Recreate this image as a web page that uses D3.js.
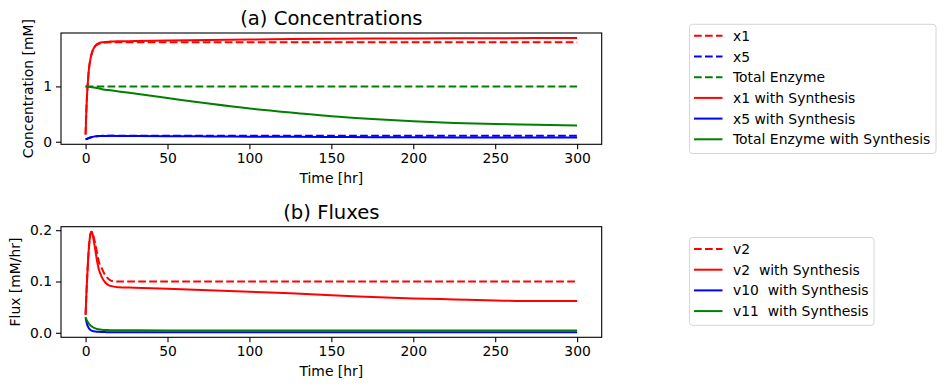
<!DOCTYPE html>
<html>
<head>
<meta charset="utf-8">
<script src="https://cdn.jsdelivr.net/npm/d3@7"></script>
<style>
  body { margin: 0; background: #fff; }
  text { font-family: "DejaVu Sans", sans-serif; fill: #000; }
</style>
</head>
<body>
<div id="chart"></div>
<script>
// time points (hr) for the concentration panel
var tConc = [0, 0.5, 1, 1.5, 2, 3, 4, 5, 6, 7, 8, 10, 12, 15, 20, 30, 50, 75, 100, 125, 150, 175, 200, 225, 250, 275, 300]
var x1 = [0.13, 0.58, 0.9, 1.12, 1.3, 1.5, 1.62, 1.69, 1.73, 1.755, 1.77, 1.785, 1.792, 1.797, 1.8, 1.8, 1.8, 1.8, 1.8, 1.8, 1.8, 1.8, 1.8, 1.8, 1.8, 1.8, 1.8]
var x5 = [0.045, 0.05, 0.055, 0.061, 0.067, 0.077, 0.085, 0.092, 0.097, 0.1, 0.103, 0.106, 0.108, 0.109, 0.11, 0.11, 0.11, 0.11, 0.11, 0.11, 0.11, 0.11, 0.11, 0.11, 0.11, 0.11, 0.11]
var enzyme = [1, 1, 1, 1, 1, 1, 1, 1, 1, 1, 1, 1, 1, 1, 1, 1, 1, 1, 1, 1, 1, 1, 1, 1, 1, 1, 1]
var x1Syn = [0.13, 0.58, 0.9, 1.12, 1.3, 1.5, 1.62, 1.69, 1.735, 1.765, 1.78, 1.797, 1.805, 1.81, 1.815, 1.82, 1.83, 1.84, 1.848, 1.855, 1.86, 1.864, 1.867, 1.87, 1.872, 1.873, 1.874]
var x5Syn = [0.045, 0.05, 0.055, 0.061, 0.067, 0.077, 0.085, 0.092, 0.097, 0.1, 0.102, 0.104, 0.105, 0.106, 0.105, 0.103, 0.1, 0.096, 0.092, 0.088, 0.085, 0.082, 0.08, 0.078, 0.077, 0.076, 0.075]
var enzymeSyn = [1.0, 1.0, 0.998, 0.995, 0.993, 0.99, 0.985, 0.98, 0.975, 0.97, 0.965, 0.95, 0.94, 0.93, 0.91, 0.87, 0.79, 0.69, 0.6, 0.53, 0.46, 0.41, 0.37, 0.34, 0.32, 0.305, 0.295]

// time points (hr) for the flux panel
var tFlux = [0, 0.5, 1, 1.5, 2, 2.5, 3, 3.5, 4, 5, 6, 7, 8, 10, 12, 14, 16, 20, 30, 50, 75, 100, 125, 150, 175, 200, 225, 250, 275, 300]
var v2 = [0.035, 0.075, 0.11, 0.14, 0.165, 0.182, 0.193, 0.197, 0.196, 0.186, 0.172, 0.156, 0.14, 0.125, 0.112, 0.105, 0.101, 0.1, 0.1, 0.1, 0.1, 0.1, 0.1, 0.1, 0.1, 0.1, 0.1, 0.1, 0.1, 0.1]
var v2Syn = [0.035, 0.075, 0.11, 0.14, 0.165, 0.182, 0.193, 0.197, 0.195, 0.18, 0.16, 0.14, 0.125, 0.108, 0.098, 0.093, 0.091, 0.089, 0.088, 0.086, 0.083, 0.08, 0.077, 0.073, 0.07, 0.067, 0.065, 0.063, 0.062, 0.062]
var v10Syn = [0.03, 0.022, 0.016, 0.012, 0.009, 0.007, 0.0055, 0.0045, 0.0038, 0.003, 0.0025, 0.0021, 0.0018, 0.0015, 0.0013, 0.0012, 0.0011, 0.001, 0.001, 0.001, 0.001, 0.001, 0.001, 0.001, 0.001, 0.001, 0.001, 0.001, 0.001, 0.001]
var v11Syn = [0.03, 0.026, 0.023, 0.02, 0.018, 0.016, 0.014, 0.013, 0.012, 0.01, 0.0085, 0.0075, 0.0068, 0.006, 0.0055, 0.0052, 0.005, 0.005, 0.0048, 0.0047, 0.0046, 0.0045, 0.0045, 0.0045, 0.0045, 0.0045, 0.0045, 0.0045, 0.0045, 0.0045]

var xTicks = [0, 50, 100, 150, 200, 250, 300]
var concTicks = [0, 1]
var fluxTicks = [0.0, 0.1, 0.2]

var concSeries = [
    {name: "x1", t: tConc, v: x1, color: "#ff0000", dash: true},
    {name: "x5", t: tConc, v: x5, color: "#0000ff", dash: true},
    {name: "Total Enzyme", t: tConc, v: enzyme, color: "#008000", dash: true},
    {name: "x1 with Synthesis", t: tConc, v: x1Syn, color: "#ff0000", dash: false},
    {name: "x5 with Synthesis", t: tConc, v: x5Syn, color: "#0000ff", dash: false},
    {name: "Total Enzyme with Synthesis", t: tConc, v: enzymeSyn, color: "#008000", dash: false}
]
var fluxSeries = [
    {name: "v2", t: tFlux, v: v2, color: "#ff0000", dash: true},
    {name: "v2  with Synthesis", t: tFlux, v: v2Syn, color: "#ff0000", dash: false},
    {name: "v10  with Synthesis", t: tFlux, v: v10Syn, color: "#0000ff", dash: false},
    {name: "v11  with Synthesis", t: tFlux, v: v11Syn, color: "#008000", dash: false}
]

var W = 945, H = 390
var svg = d3.select("#chart").append("svg")
    .attr("width", W)
    .attr("height", H)

var dashArr = "7.7,3.3"

// matplotlib style 5% margins
function padded(lo, hi) {
    var r = hi - lo
    return [lo - 0.05 * r, hi + 0.05 * r]
}

function panel(opts) {
    var left = 61, right = 601.7
    var top = opts.top, bottom = opts.bottom

    var allT = [], allV = []
    opts.series.forEach(function (s) { allT = allT.concat(s.t); allV = allV.concat(s.v) })

    var x = d3.scaleLinear().domain(padded(d3.min(allT), d3.max(allT))).range([left, right])
    var y = d3.scaleLinear().domain(padded(d3.min(allV), d3.max(allV))).range([bottom, top])

    var g = svg.append("g")

    var clipId = "clip" + opts.id
    g.append("clipPath").attr("id", clipId)
        .append("rect")
        .attr("x", left).attr("y", top)
        .attr("width", right - left).attr("height", bottom - top)

    var line = d3.line()
        .x(function (d) { return x(d[0]) })
        .y(function (d) { return y(d[1]) })
        .curve(d3.curveMonotoneX)

    g.append("g").attr("clip-path", "url(#" + clipId + ")")
        .selectAll("path")
        .data(opts.series)
        .enter()
        .append("path")
            .attr("d", function (s) { return line(s.t.map(function (t, i) { return [t, s.v[i]] })) })
            .attr("fill", "none")
            .attr("stroke", function (s) { return s.color })
            .attr("stroke-width", 2)
            .attr("stroke-dasharray", function (s) { return s.dash ? dashArr : null })

    // axes
    var xAxis = d3.axisBottom(x).tickValues(xTicks).tickSize(5).tickPadding(4).tickFormat(d3.format("d"))
    var yAxis = d3.axisLeft(y).tickValues(opts.yTicks).tickSize(5).tickPadding(4).tickFormat(opts.yFormat)

    var gx = g.append("g").attr("transform", "translate(0," + bottom + ")").call(xAxis)
    var gy = g.append("g").attr("transform", "translate(" + left + ",0)").call(yAxis)
    ;[gx, gy].forEach(function (a) {
        a.select(".domain").remove()
        a.selectAll("line").attr("stroke", "#000").attr("stroke-width", 1.1)
        a.selectAll("text").style("font-size", "13.9px").attr("fill", "#000")
    })

    g.append("rect")
        .attr("x", left).attr("y", top)
        .attr("width", right - left).attr("height", bottom - top)
        .attr("fill", "none")
        .attr("stroke", "#000")
        .attr("stroke-width", 1.1)

    // titles and labels
    g.append("text")
        .attr("x", (left + right) / 2)
        .attr("y", top - 8)
        .attr("text-anchor", "middle")
        .style("font-size", "19.6px")
        .text(opts.title)

    g.append("text")
        .attr("x", (left + right) / 2)
        .attr("y", bottom + 38.5)
        .attr("text-anchor", "middle")
        .style("font-size", "13.9px")
        .text("Time [hr]")

    g.append("text")
        .attr("transform", "translate(" + opts.yLabelX + "," + (top + bottom) / 2 + ") rotate(-90)")
        .attr("text-anchor", "middle")
        .style("font-size", "13.9px")
        .text(opts.yLabel)

    // legend
    var lg = svg.append("g")
    var rowH = 20.7
    lg.append("rect")
        .attr("x", 689.5).attr("y", opts.legTop)
        .attr("width", opts.legW).attr("height", opts.series.length * rowH + 5)
        .attr("rx", 3)
        .attr("fill", "#fff").attr("fill-opacity", 0.8)
        .attr("stroke", "#d6d6d6")
    var items = lg.selectAll(".item")
        .data(opts.series)
        .enter()
        .append("g")
            .attr("transform", function (d, i) { return "translate(0," + (opts.legTop + 11.5 + i * rowH) + ")" })
    items.append("line")
        .attr("x1", 694).attr("x2", 722.5)
        .attr("stroke", function (d) { return d.color })
        .attr("stroke-width", 2)
        .attr("stroke-dasharray", function (d) { return d.dash ? dashArr : null })
    items.append("text")
        .attr("x", 733)
        .attr("y", 5)
        .style("font-size", "13.9px")
        .style("white-space", "pre")
        .attr("xml:space", "preserve")
        .text(function (d) { return d.name })
}

panel({
    id: "a", top: 33, bottom: 144.3, series: concSeries,
    yTicks: concTicks, yFormat: d3.format("d"),
    title: "(a) Concentrations", yLabel: "Concentration [mM]", yLabelX: 33,
    legTop: 24.3, legW: 246.5
})

panel({
    id: "b", top: 226.7, bottom: 337.3, series: fluxSeries,
    yTicks: fluxTicks, yFormat: d3.format(".1f"),
    title: "(b) Fluxes", yLabel: "Flux [mM/hr]", yLabelX: 20,
    legTop: 237.5, legW: 184.5
})
</script>
</body>
</html>
